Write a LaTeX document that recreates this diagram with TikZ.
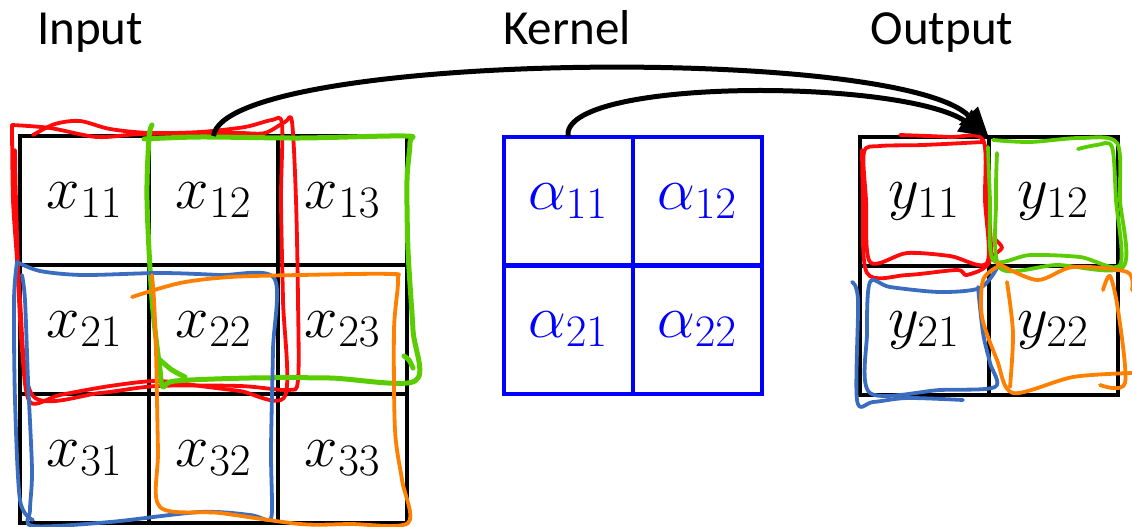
\RequirePackage{fix-cm}
\documentclass[tikz,border=0pt]{standalone}
\usepackage{fontspec}
\newfontfamily\titlefont{Carlito}
\usetikzlibrary{arrows.meta}
\DeclareMathSizes{60}{60}{45}{32}

\definecolor{hred}{RGB}{255,10,10}
\definecolor{hgreen}{RGB}{90,205,0}
\definecolor{hblue}{RGB}{58,108,192}
\definecolor{horange}{RGB}{255,128,0}
\definecolor{kblue}{RGB}{0,0,255}

\tikzset{
  gridcell/.style={draw=black, line width=4pt, minimum width=129pt, minimum height=129pt,
    inner sep=0pt, outer sep=0pt, font=\fontsize{60}{62}\selectfont},
  kernelcell/.style={gridcell, draw=kblue, text=kblue},
  title/.style={anchor=base, font=\titlefont\fontsize{49}{50}\selectfont},
  hand/.style={line width=3.8pt, line cap=round, line join=round},
  handthick/.style={hand, line width=5pt},
  flow/.style={line width=5pt, -{Triangle[length=29pt, width=25pt]}},
}

\begin{document}
\begin{tikzpicture}[x=1pt, y=-1pt]
\useasboundingbox (0,0) rectangle (1132,527);

% titles
\node[title] (tin)  at (90,45)  {Input};
\node[title] (tker) at (567,45) {Kernel};
\node[title] (tout) at (942,45) {Output};

% input 3x3
\node[gridcell] (x11) at (84.5,200.5) {$x_{11}$};
\node[gridcell] (x12) at (213.5,200.5) {$x_{12}$};
\node[gridcell] (x13) at (342.5,200.5) {$x_{13}$};
\node[gridcell] (x21) at (84.5,329.5) {$x_{21}$};
\node[gridcell] (x22) at (213.5,329.5) {$x_{22}$};
\node[gridcell] (x23) at (342.5,329.5) {$x_{23}$};
\node[gridcell] (x31) at (84.5,458.5) {$x_{31}$};
\node[gridcell] (x32) at (213.5,458.5) {$x_{32}$};
\node[gridcell] (x33) at (342.5,458.5) {$x_{33}$};

% kernel 2x2
\node[kernelcell] (a11) at (568,201) {$\alpha_{11}$};
\node[kernelcell] (a12) at (697,201) {$\alpha_{12}$};
\node[kernelcell] (a21) at (568,329) {$\alpha_{21}$};
\node[kernelcell] (a22) at (697,329) {$\alpha_{22}$};

% output 2x2
\node[gridcell] (y11) at (924,201) {$y_{11}$};
\node[gridcell] (y12) at (1053,201) {$y_{12}$};
\node[gridcell] (y21) at (924,330) {$y_{21}$};
\node[gridcell] (y22) at (1053,330) {$y_{22}$};

% hand-drawn windows on the input
\draw[hand, hred] plot[smooth, tension=0.5] coordinates {(33,135) (55,124) (80,121) (110,129) (150,133) (200,132) (245,127) (272,120) (282,124) (281,200) (283,300) (285,396) (240,391) (200,386) (157,381) (110,386) (60,395) (30,402) (22,350) (17,260) (13,200) (12,125)};
\draw[hand, hred] plot[smooth, tension=0.5] coordinates {(12,125) (50,128) (97,137) (140,134) (200,133) (240,133) (265,133) (285,122) (292,122) (296,200) (298,300) (298,380) (288,390) (240,386) (157,386) (100,393) (33,396) (20,300) (16,200) (15,150)};

\draw[handthick, hgreen] plot[smooth, tension=0.5] coordinates {(152,125) (149,138) (147,200) (152,300) (160,370) (163,387) (175,381) (250,378) (330,378) (415,381) (413,330) (408,250) (407,180) (410,142) (405,136) (300,138) (200,137) (144,139)};
\draw[handthick, hgreen] plot[smooth, tension=0.5] coordinates {(160,360) (172,370) (185,377)};
\draw[handthick, hgreen] plot[smooth, tension=0.5] coordinates {(404,356) (409,360) (413,368)};

\draw[hand, hblue] plot[smooth, tension=0.5] coordinates {(17,262) (40,271) (83,275) (160,273) (220,275) (274,278) (273,350) (271,450) (272,510) (268,520) (250,515) (200,512) (110,522) (33,526) (30,510) (32,470) (28,380) (25,300) (22,275)};
\draw[hand, hblue] plot[smooth, tension=0.5] coordinates {(17,262) (14,300) (15,400) (20,500) (33,520)};

\draw[hand, horange] plot[smooth, tension=0.5] coordinates {(132,297) (180,283) (230,277) (300,275) (390,274) (398,280) (394,330) (395,430) (402,480) (408,523) (350,524) (300,524) (220,513) (160,507) (158,450) (156,350) (154,300) (152,275)};

% hand-drawn marks on the output
\draw[hand, hred] plot[smooth, tension=0.5] coordinates {(900,135) (950,137) (983,140) (985,200) (987,263) (950,256) (907,253) (870,262) (866,200) (864,152) (880,146) (923,145) (983,142)};
\draw[hand, hred] plot[smooth, tension=0.5] coordinates {(986,146) (988,200) (990,260) (967,275) (957,270) (907,275) (867,273) (863,200) (862,150)};
\draw[hand, hred] plot[smooth, tension=0.5] coordinates {(996,240) (1002,248) (993,255)};

\draw[hand, hgreen] plot[smooth, tension=0.5] coordinates {(993,140) (1030,142) (1080,138) (1117,143) (1120,200) (1123,267) (1057,265) (1000,268) (996,200) (997,153)};
\draw[hand, hgreen] plot[smooth, tension=0.5] coordinates {(988,147) (990,200) (993,260) (1030,255) (1080,257) (1120,265) (1116,200) (1112,147) (1097,145) (1078,149)};

\draw[hand, hblue] plot[smooth, tension=0.5] coordinates {(997,268) (980,288) (940,292) (890,287) (870,282) (867,333) (870,393) (940,390) (995,387) (990,363) (983,333) (978,287)};
\draw[hand, hblue] plot[smooth, tension=0.5] coordinates {(852,282) (858,300) (857,400) (873,402) (907,398) (963,400)};

\draw[hand, horange] plot[smooth, tension=0.5] coordinates {(997,267) (983,280) (982,317) (997,360) (1013,393) (1073,377) (1132,373)};
\draw[hand, horange] plot[smooth, tension=0.5] coordinates {(997,263) (1037,280) (1073,267) (1127,272) (1132,290)};
\draw[hand, horange] plot[smooth, tension=0.5] coordinates {(1007,282) (1013,333) (1010,387)};
\draw[hand, horange] plot[smooth, tension=0.5] coordinates {(1103,290) (1110,276) (1118,310) (1125,383) (1100,385)};

% connectors into the output
\coordinate (tip) at (y11.north east);
\draw[flow] (x12.north) .. controls (225,52) and (900,44) .. (tip);
\draw[flow] (a11.north) .. controls (560,78) and (900,78) .. (tip);
\end{tikzpicture}
\end{document}
